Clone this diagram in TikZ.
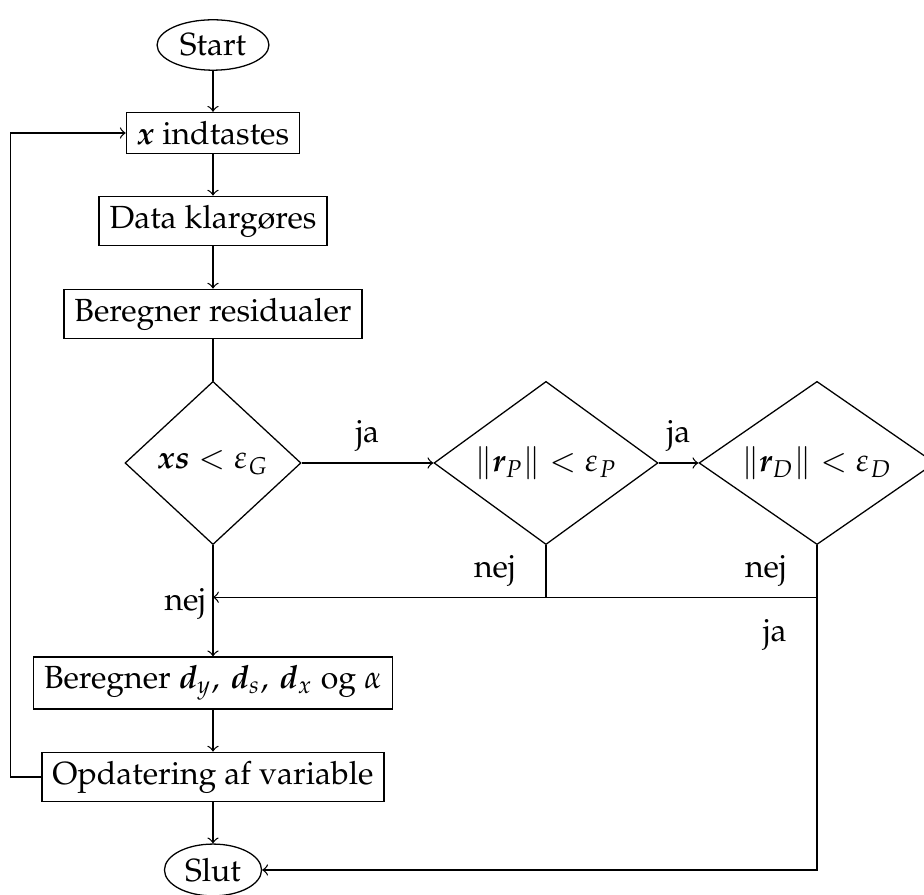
\documentclass[tikz,border=0pt]{standalone}
\usepackage[T1]{fontenc}
\usepackage{amsmath}
\usepackage{mathpazo}
\usepackage{bm}
\usetikzlibrary{shapes.geometric, positioning, arrows}

\begin{document}
\begin{tikzpicture}[->,>=to,node distance=27.5pt,
    terminal/.style={ellipse, draw, inner sep=2pt},
    process/.style={rectangle, draw, inner xsep=3.3pt, inner ysep=2.7pt},
    decision/.style={diamond, draw, inner sep=0pt, aspect=1.3, minimum height=51pt}]
      \useasboundingbox (-66.5625pt,14.0625pt) rectangle (222.1875pt,-265.625pt);
      \node[terminal] (start) at (0,0) {Start};
      \node[process] (xind) [below of=start] {$\bm{x}$ indtastes};
      \node[process] (data) [below of=xind] {Data klarg\o res};
      \node[process] (res) [below of=data, node distance=29.06pt] {Beregner residualer};
      \node[decision, minimum width=55pt] (d1) [below of=res, node distance=46.56pt] {$\bm{xs} < \varepsilon_G$};
      \node[decision, minimum width=70pt] (d2) [right of=d1, node distance=104.06pt] {$\|\bm{r}_P\| < \varepsilon_P$};
      \node[decision, minimum width=73.75pt] (d3) [right of=d2, node distance=84.69pt] {$\|\bm{r}_D\| < \varepsilon_D$};
      \node[process] (bd) [below of=d1, node distance=68.75pt] {Beregner $\bm{d}_y,\,\bm{d}_s,\,\bm{d}_x$ og $\alpha$};
      \node[process] (opd) [below of=bd, node distance=29.375pt] {Opdatering af variable};
      \node[terminal] (slut) [below of=opd, node distance=29.06pt] {Slut};

      \coordinate (p2) at ([yshift=-16.25pt]d2.south);
      \coordinate (p3) at ([yshift=-16.25pt]d3.south);

      \draw (start) -- (xind);
      \draw (xind) -- (data);
      \draw (data) -- (res);
      \draw[-] (res) -- (d1);
      \draw (d1) -- node[above] {ja} (d2);
      \draw (d2) -- node[above] {ja} (d3);
      \draw[-] (d2.south) -- node[left=6pt] {nej} (p2);
      \draw[-] (d3.south) -- node[left=6pt] {nej} (p3);
      \draw (p3) -- (d1.south |- p3) node[left, inner sep=2pt, yshift=-2pt] {nej};
      \draw (p3) |- node[pos=0.07, left=6pt] {ja} (slut);
      \draw (d1) -- (bd);
      \draw (bd) -- (opd);
      \draw (opd) -- (slut);
      \draw (opd.west) -- ++(-9.7pt,0) |- (xind.west);
    \end{tikzpicture}
\end{document}
